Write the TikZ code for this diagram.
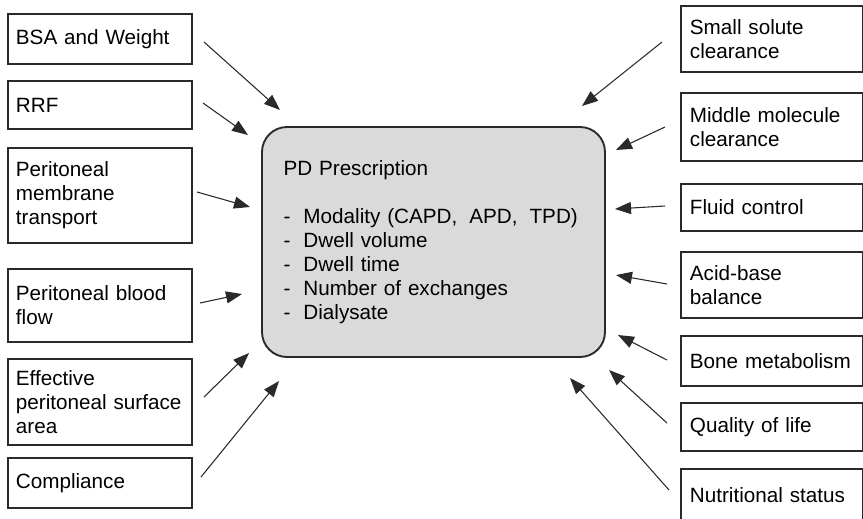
\documentclass[tikz,border=0pt]{standalone}
\usepackage{fontspec}
\setmainfont{Liberation Sans}
\usetikzlibrary{arrows.meta}
\definecolor{boxgray}{HTML}{DADADA}
\definecolor{linegray}{HTML}{2A2A2A}

\begin{document}
\begin{tikzpicture}[x=0.75pt,y=-0.75pt,
        font=\fontsize{15.5}{18}\selectfont,
        leftbox/.style={draw=linegray, line width=1.4pt, anchor=north west,
                text width=126pt, inner xsep=6pt, inner ysep=2pt, align=left},
        rightbox/.style={draw=linegray, line width=1.4pt, anchor=north west,
                text width=123pt, inner xsep=6.75pt, inner ysep=2pt, align=left},
        pdbox/.style={draw=linegray, line width=1.4pt, fill=boxgray,
                rounded corners=18.75pt, minimum width=257.25pt,
                minimum height=172.5pt, text width=225pt, align=left},
        arr/.style={draw=linegray, line width=0.8pt,
                -{Triangle[length=12pt,width=9pt]}}]
    \useasboundingbox (0,0) rectangle (863,518);

    % factors on the left
    \node[leftbox, minimum height=37.5pt] (bsa) at (7,13) {BSA and Weight};
    \node[leftbox, minimum height=36pt] (rrf) at (7,80) {RRF};
    \node[leftbox, minimum height=71.25pt] (pmt) at (7,147) {Peritoneal\\membrane\\transport};
    \node[leftbox, minimum height=54.75pt] (pbf) at (7,268) {Peritoneal blood\\flow};
    \node[leftbox, minimum height=64.5pt] (epsa) at (7,358) {Effective\\peritoneal surface\\area};
    \node[leftbox, minimum height=37.5pt] (compl) at (7,457) {Compliance};

    % targets on the right
    \node[rightbox, minimum height=49.5pt] (ssc) at (680,5) {Small solute\\clearance};
    \node[rightbox, minimum height=51pt] (mmc) at (680,92) {Middle molecule\\clearance};
    \node[rightbox, minimum height=35.25pt] (fluid) at (680,183) {Fluid control};
    \node[rightbox, minimum height=49.5pt] (acid) at (680,251) {Acid-base\\balance};
    \node[rightbox, minimum height=37.5pt] (bone) at (680,335) {Bone metabolism};
    \node[rightbox, minimum height=36pt] (qol) at (680,402) {Quality of life};
    \node[rightbox, minimum height=39pt] (nutr) at (680,468) {Nutritional status};

    \node[pdbox] (pd) at (433.5,242) {PD Prescription\\[18pt]
        \makebox[15pt][l]{-}Modality (CAPD,\hspace{9pt}APD,\hspace{9pt}TPD)\\
        \makebox[15pt][l]{-}Dwell volume\\
        \makebox[15pt][l]{-}Dwell time\\
        \makebox[15pt][l]{-}Number of exchanges\\
        \makebox[15pt][l]{-}Dialysate};

    % arrow ends
    \coordinate (bsa-s) at (204,42);   \coordinate (bsa-t) at (280,110);
    \coordinate (rrf-s) at (203,103);  \coordinate (rrf-t) at (248,135);
    \coordinate (pmt-s) at (197,192);  \coordinate (pmt-t) at (250,207);
    \coordinate (pbf-s) at (200,303);  \coordinate (pbf-t) at (242,294);
    \coordinate (epsa-s) at (204,397); \coordinate (epsa-t) at (249,353);
    \coordinate (compl-s) at (201,477); \coordinate (compl-t) at (279,381);
    \coordinate (ssc-s) at (662,42);   \coordinate (ssc-t) at (582,106);
    \coordinate (mmc-s) at (665,127);  \coordinate (mmc-t) at (616,150);
    \coordinate (fluid-s) at (665,206); \coordinate (fluid-t) at (615,209);
    \coordinate (acid-s) at (667,284); \coordinate (acid-t) at (616,275);
    \coordinate (bone-s) at (667,360); \coordinate (bone-t) at (618,335);
    \coordinate (qol-s) at (667,423);  \coordinate (qol-t) at (609,370);
    \coordinate (nutr-s) at (669,490); \coordinate (nutr-t) at (570,378);

    \draw[arr] (bsa-s) -- (bsa-t);
    \draw[arr] (rrf-s) -- (rrf-t);
    \draw[arr] (pmt-s) -- (pmt-t);
    \draw[arr] (pbf-s) -- (pbf-t);
    \draw[arr] (epsa-s) -- (epsa-t);
    \draw[arr] (compl-s) -- (compl-t);
    \draw[arr] (ssc-s) -- (ssc-t);
    \draw[arr] (mmc-s) -- (mmc-t);
    \draw[arr] (fluid-s) -- (fluid-t);
    \draw[arr] (acid-s) -- (acid-t);
    \draw[arr] (bone-s) -- (bone-t);
    \draw[arr] (qol-s) -- (qol-t);
    \draw[arr] (nutr-s) -- (nutr-t);
\end{tikzpicture}
\end{document}
